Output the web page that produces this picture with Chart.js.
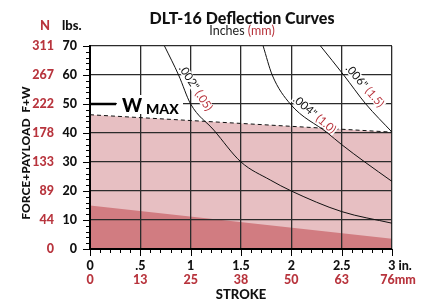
<!DOCTYPE html>
<html>
<head>
<meta charset="utf-8">
<script src="https://cdn.jsdelivr.net/npm/chart.js@4/dist/chart.umd.min.js"></script>
<style>
  body { margin: 0; background: #fff; }
  #wrap { width: 421px; height: 301px; }
</style>
</head>
<body>
<div id="wrap"><canvas id="chart" width="421" height="301"></canvas></div>
<script>
// tick labels
var yTicks = [0, 10, 20, 30, 40, 50, 60, 70];
var yNewtons = ['0', '44', '89', '133', '178', '222', '267', '311'];
var xTicks = [0, 0.5, 1, 1.5, 2, 2.5, 3];
var xInches = ['0', '.5', '1', '1.5', '2', '2.5', '3 in.'];
var xMm = ['0', '13', '25', '38', '50', '63', '76mm'];

// areas (stroke in., load lbs.)
var forceArea = [{x: 0, y: 15}, {x: 3, y: 3.5}];
var wMax = [{x: 0, y: 46.3}, {x: 3, y: 40.3}];

// deflection curves
var curve002 = [{x: 0.74, y: 70}, {x: 0.88, y: 60}, {x: 1.0, y: 50}, {x: 1.23, y: 41}, {x: 1.5, y: 30}, {x: 1.79, y: 23.8}, {x: 2.0, y: 20}, {x: 2.5, y: 12.9}, {x: 3, y: 8.9}];
var curve004 = [{x: 1.72, y: 70}, {x: 1.81, y: 60}, {x: 1.99, y: 50}, {x: 2.36, y: 40}, {x: 2.5, y: 36}, {x: 2.73, y: 30}, {x: 3, y: 23.3}];
var curve006 = [{x: 2.29, y: 70}, {x: 2.52, y: 60}, {x: 2.74, y: 50}, {x: 3, y: 40.3}];

// curve labels: [black, red, x, y, angle deg]
var curveLabels = [
  ['.002"', '(.05)', 1.05, 55.5, 57],
  ['.004"', '(1.0)', 2.23, 46.4, 40],
  ['.006"', '(1.5)', 2.73, 56.2, 49],
];

var RED = '#b8343d';
var FONT = 'Lato, "Open Sans", sans-serif';

const overlay = {
  id: 'overlay',
  afterDatasetsDraw(chart) {
    const ctx = chart.ctx;
    const xs = chart.scales.x;
    const ys = chart.scales.y;
    ctx.save();
    ctx.font = '11.5px ' + FONT;
    ctx.textBaseline = 'middle';
    curveLabels.forEach((l) => {
      const t1 = l[0] + ' ';
      const w1 = ctx.measureText(t1).width;
      const w2 = ctx.measureText(l[1]).width;
      const w = w1 + w2;
      ctx.save();
      ctx.translate(xs.getPixelForValue(l[2]), ys.getPixelForValue(l[3]));
      ctx.rotate(l[4] * Math.PI / 180);
      ctx.fillStyle = '#fff';
      ctx.fillRect(-w / 2 - 1, -5, w + 2, 10);
      ctx.textAlign = 'left';
      ctx.fillStyle = '#111';
      ctx.fillText(t1, -w / 2, 0);
      ctx.fillStyle = RED;
      ctx.fillText(l[1], -w / 2 + w1, 0);
      ctx.restore();
    });

    // W MAX marker
    const y50 = ys.getPixelForValue(50);
    const x0 = xs.getPixelForValue(0);
    ctx.fillStyle = '#fff';
    ctx.fillRect(x0 + 27, y50 - 9, 66, 19);
    ctx.strokeStyle = '#000';
    ctx.lineWidth = 2.5;
    ctx.beginPath();
    ctx.moveTo(x0, y50);
    ctx.lineTo(x0 + 26, y50);
    ctx.stroke();
    ctx.fillStyle = '#000';
    ctx.textAlign = 'left';
    ctx.textBaseline = 'alphabetic';
    ctx.font = '900 19px ' + FONT;
    ctx.fillText('W', x0 + 32, y50 + 8);
    ctx.font = '900 14px ' + FONT;
    ctx.fillText('MAX', x0 + 56, y50 + 10);
    ctx.restore();
  },
  afterDraw(chart) {
    const ctx = chart.ctx;
    const xs = chart.scales.x;
    const ys = chart.scales.y;
    const a = chart.chartArea;
    ctx.save();
    ctx.strokeStyle = '#000';
    ctx.lineWidth = 1;
    // y ticks
    for (let v = 0; v <= 70; v += 2) {
      const py = Math.round(ys.getPixelForValue(v)) + 0.5;
      ctx.beginPath();
      ctx.moveTo(a.left - (v % 10 == 0 ? 7 : 4), py);
      ctx.lineTo(a.left, py);
      ctx.stroke();
    }
    // x ticks
    for (let i = 0; i <= 30; i++) {
      const px = Math.round(xs.getPixelForValue(i / 10)) + 0.5;
      ctx.beginPath();
      ctx.moveTo(px, a.bottom);
      ctx.lineTo(px, a.bottom + (i % 5 == 0 ? 7 : 4));
      ctx.stroke();
    }
    ctx.font = '900 12.5px ' + FONT;
    ctx.textBaseline = 'middle';
    ctx.textAlign = 'right';
    yTicks.forEach((v, i) => {
      const py = ys.getPixelForValue(v);
      ctx.fillStyle = '#111';
      ctx.fillText(String(v), 77, py);
      ctx.fillStyle = RED;
      ctx.fillText(yNewtons[i], 54, py);
    });
    ctx.textAlign = 'center';
    xTicks.forEach((v, i) => {
      const px = xs.getPixelForValue(v);
      ctx.fillStyle = '#111';
      ctx.fillText(xInches[i], px + (i == 6 ? 8 : 0), 266);
      ctx.fillStyle = RED;
      ctx.fillText(xMm[i], px + (i == 6 ? 6 : 0), 280);
    });
    ctx.fillStyle = '#111';
    ctx.font = '900 13px ' + FONT;
    ctx.fillText('STROKE', (a.left + a.right) / 2, 295);

    // header
    ctx.textBaseline = 'alphabetic';
    ctx.font = '900 16px ' + FONT;
    ctx.fillText('DLT-16 Deflection Curves', 242, 24);
    ctx.font = '12.5px ' + FONT;
    const s1 = 'Inches ';
    const w1 = ctx.measureText(s1).width;
    const w2 = ctx.measureText('(mm)').width;
    ctx.textAlign = 'left';
    ctx.fillStyle = '#222';
    ctx.fillText(s1, 242 - (w1 + w2) / 2, 35);
    ctx.fillStyle = RED;
    ctx.fillText('(mm)', 242 - (w1 + w2) / 2 + w1, 35);
    ctx.font = '900 13px ' + FONT;
    ctx.fillText('N', 40, 30);
    ctx.fillStyle = '#111';
    ctx.fillText('lbs.', 62, 30);

    // axis title
    ctx.save();
    ctx.translate(26, 153);
    ctx.rotate(-Math.PI / 2);
    ctx.textAlign = 'center';
    ctx.textBaseline = 'middle';
    ctx.font = '900 12px ' + FONT;
    ctx.fillText('FORCE+PAYLOAD  F+W', 0, 0);
    ctx.restore();
    ctx.restore();
  },
};

function curveSet(data) {
  return {
    data: data,
    borderColor: '#111',
    borderWidth: 1,
    pointRadius: 0,
    fill: false,
    cubicInterpolationMode: 'monotone',
  };
}

new Chart(document.getElementById('chart').getContext('2d'), {
  type: 'line',
  data: {
    datasets: [
      {
        data: forceArea,
        borderWidth: 0,
        pointRadius: 0,
        backgroundColor: 'rgb(209,124,129)',
        fill: 'origin',
      },
      {
        data: wMax,
        borderColor: '#111',
        borderWidth: 1,
        borderDash: [4, 3],
        pointRadius: 0,
        backgroundColor: 'rgb(231,191,194)',
        fill: 'origin',
      },
      curveSet(curve002),
      curveSet(curve004),
      curveSet(curve006),
    ],
  },
  options: {
    responsive: false,
    animation: false,
    layout: {
      padding: {left: 90, top: 46, right: 29, bottom: 52},
    },
    plugins: {
      legend: {display: false},
      tooltip: {enabled: false},
      filler: {drawTime: 'beforeDraw'},
    },
    scales: {
      x: {
        type: 'linear',
        min: 0,
        max: 3,
        ticks: {display: false, stepSize: 0.5},
        grid: {color: '#2b2b2b', lineWidth: 1.3, drawTicks: false},
        border: {color: '#000', width: 2},
      },
      y: {
        type: 'linear',
        min: 0,
        max: 70,
        ticks: {display: false, stepSize: 10},
        grid: {color: '#2b2b2b', lineWidth: 1.3, drawTicks: false},
        border: {color: '#000', width: 2},
      },
    },
  },
  plugins: [overlay],
});
</script>
</body>
</html>
